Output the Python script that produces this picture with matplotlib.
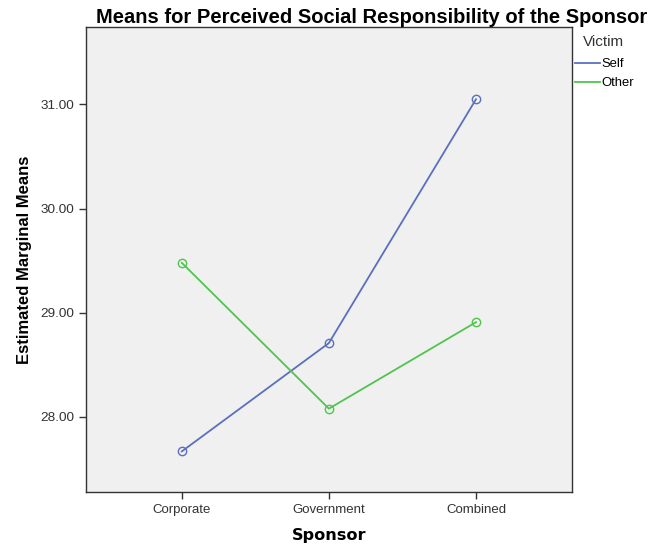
import matplotlib
matplotlib.use('Agg')
import matplotlib.pyplot as plt

# Data
sponsors = ['Corporate', 'Government', 'Combined']
self_means = [27.67, 28.71, 31.05]
other_means = [29.48, 28.08, 28.91]
y_ticks = [28.0, 29.0, 30.0, 31.0]

plt.rcParams['font.family'] = ['Liberation Sans', 'DejaVu Sans']

fig = plt.figure(figsize=(6.5, 5.44), dpi=100)
ax = fig.add_axes([0.132, 0.0956, 0.748, 0.854])
ax.set_facecolor('#f0f0f0')

x = list(range(len(sponsors)))
ax.plot(x, self_means, color='#5a6fbf', lw=1.3, marker='o', ms=6,
        mfc='none', mec='#5a6fbf', mew=1.0, label='Self')
ax.plot(x, other_means, color='#4fc44f', lw=1.3, marker='o', ms=6,
        mfc='none', mec='#4fc44f', mew=1.0, label='Other')

ax.set_xlim(-0.653, 2.653)
ax.set_ylim(27.28, 31.74)
ax.set_xticks(x)
ax.set_xticklabels(sponsors, fontsize=9.5)
ax.set_yticks(y_ticks)
ax.set_yticklabels([f'{v:.2f}' for v in y_ticks], fontsize=9.7)
ax.tick_params(direction='out', length=5, width=1, colors='#333333', labelcolor='#333333')
for s in ax.spines.values():
    s.set_color('#333333')
    s.set_linewidth(1)

ax.set_ylabel('Estimated Marginal Means', fontsize=12, fontweight='bold', labelpad=6)
ax.set_xlabel('Sponsor', fontsize=11.6, fontweight='bold', family='DejaVu Sans', labelpad=9)

fig.text(0.571, 0.968, 'Means for Perceived Social Responsibility of the Sponsor',
         ha='center', va='center', fontsize=14.5, fontweight='bold')

# legend title placed separately (indented as in the reference)
fig.text(583 / 650, 1 - 42 / 544, 'Victim', ha='left', va='center',
         fontsize=11, color='#333333')
leg = ax.legend(loc='upper left', bbox_to_anchor=(575 / 650, 1 - 58 / 544),
                bbox_transform=fig.transFigure, frameon=False, fontsize=9.4,
                handlelength=1.9, handletextpad=0.15, labelspacing=0.55,
                borderaxespad=0, borderpad=0)
for h in leg.legend_handles:
    h.set_marker('')

fig.savefig('out.png', dpi=100)
